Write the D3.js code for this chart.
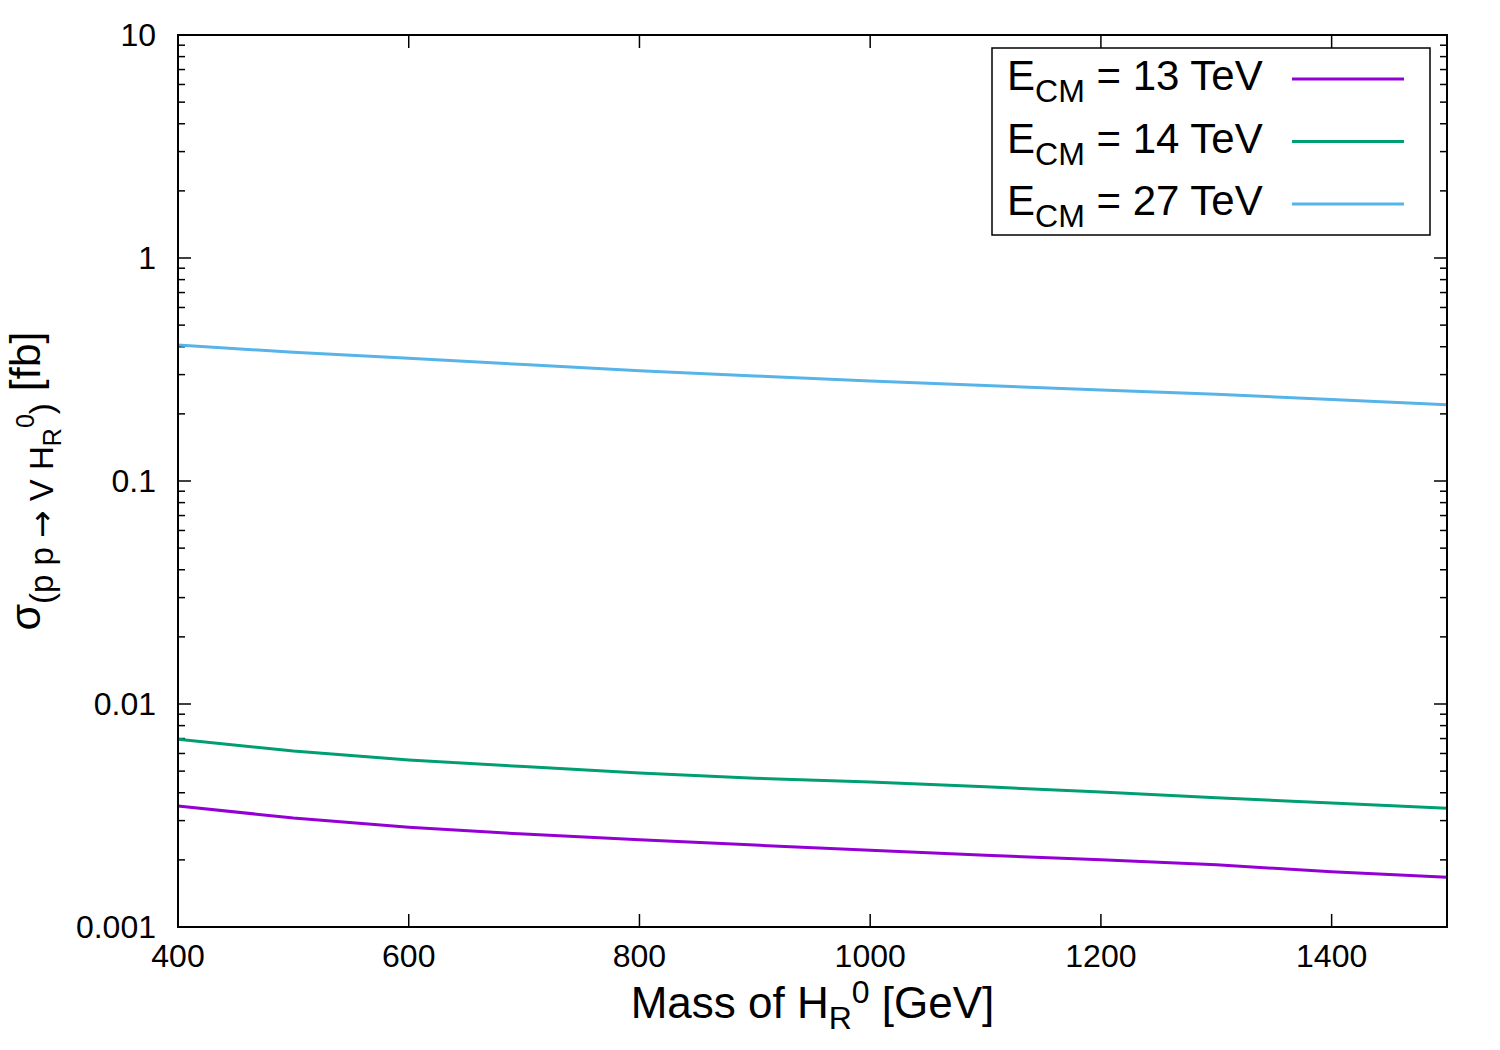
<!DOCTYPE html>
<html>
<head>
<meta charset="utf-8">
<script src="https://cdn.jsdelivr.net/npm/d3@7"></script>
<style>
  body { margin: 0; background: #fff; }
  text { font-family: "Liberation Sans", Arial, sans-serif; fill: #000; }
</style>
</head>
<body>
<svg class="chart"></svg>
<script>
var masses = [400, 500, 600, 700, 800, 900, 1000, 1100, 1200, 1300, 1400, 1500];
var xs13 = [0.00349, 0.00308, 0.00280, 0.00261, 0.00246, 0.00233, 0.00221, 0.00210, 0.00200, 0.00190, 0.00177, 0.00167];
var xs14 = [0.00695, 0.00615, 0.00561, 0.00524, 0.00490, 0.00465, 0.00447, 0.00425, 0.00403, 0.00380, 0.00360, 0.00341];
var xs27 = [0.407, 0.378, 0.355, 0.333, 0.312, 0.296, 0.281, 0.268, 0.256, 0.245, 0.232, 0.220];
var energies = ["13", "14", "27"];
var colors = ["#9400d3", "#009e73", "#56b4e9"];
var xTicks = [400, 600, 800, 1000, 1200, 1400];
var yTicks = [0.001, 0.01, 0.1, 1, 10];
var yTickLabels = ["0.001", "0.01", "0.1", "1", "10"];

var series = [xs13, xs14, xs27];

var margin = {top: 35, right: 53, bottom: 123, left: 178};
var width = 1500 - margin.left - margin.right;
var height = 1050 - margin.top - margin.bottom;

var svg = d3.select(".chart")
  .attr("width", 1500)
  .attr("height", 1050);

var chart = svg.append("g")
  .attr("transform", "translate(" + margin.left + "," + margin.top + ")");

var x = d3.scaleLinear()
  .domain([400, 1500])
  .range([0, width]);

var y = d3.scaleLog()
  .domain([0.001, 10])
  .range([height, 0]);

// minor ticks on the log axis
var minor = [];
for (var d = 0.001; d < 10; d *= 10) {
  for (var k = 2; k <= 9; k++) minor.push(d * k);
}

// left and right ticks
[0, width].forEach(function(xp, side) {
  var dir = side == 0 ? 1 : -1;
  chart.selectAll(null)
    .data(yTicks)
    .enter().append("line")
    .attr("x1", xp).attr("x2", xp + dir * 13)
    .attr("y1", function(d) { return y(d); })
    .attr("y2", function(d) { return y(d); })
    .attr("stroke", "#000").attr("stroke-width", 1.5);
  chart.selectAll(null)
    .data(minor)
    .enter().append("line")
    .attr("x1", xp).attr("x2", xp + dir * 7)
    .attr("y1", function(d) { return y(d); })
    .attr("y2", function(d) { return y(d); })
    .attr("stroke", "#000").attr("stroke-width", 1.5);
});

// bottom and top ticks
[0, height].forEach(function(yp, side) {
  var dir = side == 0 ? 1 : -1;
  chart.selectAll(null)
    .data(xTicks)
    .enter().append("line")
    .attr("y1", yp).attr("y2", yp + dir * 13)
    .attr("x1", function(d) { return x(d); })
    .attr("x2", function(d) { return x(d); })
    .attr("stroke", "#000").attr("stroke-width", 1.5);
});

// tick labels
chart.selectAll(null)
  .data(yTicks)
  .enter().append("text")
  .attr("x", -22)
  .attr("y", function(d) { return y(d) + 11; })
  .attr("text-anchor", "end")
  .style("font-size", "32px")
  .text(function(d, i) { return yTickLabels[i]; });

chart.selectAll(null)
  .data(xTicks)
  .enter().append("text")
  .attr("x", function(d) { return x(d); })
  .attr("y", height + 40)
  .attr("text-anchor", "middle")
  .style("font-size", "32px")
  .text(function(d) { return d; });

// curves
var line = d3.line()
  .x(function(d, i) { return x(masses[i]); })
  .y(function(d) { return y(d); });

series.forEach(function(s, i) {
  chart.append("path")
    .attr("d", line(s))
    .attr("fill", "none")
    .attr("stroke", colors[i])
    .attr("stroke-width", 3);
});

// frame
chart.append("rect")
  .attr("width", width)
  .attr("height", height)
  .attr("fill", "none")
  .attr("stroke", "#000")
  .attr("stroke-width", 2);

// legend
var legend = chart.append("g")
  .attr("transform", "translate(" + (992 - margin.left) + "," + (48 - margin.top) + ")");

legend.append("rect")
  .attr("width", 438)
  .attr("height", 187)
  .attr("fill", "#fff")
  .attr("stroke", "#000")
  .attr("stroke-width", 1.5);

energies.forEach(function(e, i) {
  var ly = 31 + i * 62.5;
  var t = legend.append("text")
    .attr("x", 15)
    .attr("y", ly + 11)
    .style("font-size", "42px");
  t.append("tspan").text("E");
  t.append("tspan").attr("dy", 12).style("font-size", "32px").text("CM");
  t.append("tspan").attr("dy", -12).text(" = " + e + " TeV");
  legend.append("line")
    .attr("x1", 300).attr("x2", 412)
    .attr("y1", ly).attr("y2", ly)
    .attr("stroke", colors[i])
    .attr("stroke-width", 3);
});

// axis titles
var xt = svg.append("text")
  .attr("x", margin.left + width / 2)
  .attr("y", 1018)
  .attr("text-anchor", "middle")
  .style("font-size", "44px");
xt.append("tspan").text("Mass of H");
xt.append("tspan").attr("dy", 11).style("font-size", "32px").text("R");
xt.append("tspan").attr("dy", -26).style("font-size", "32px").text("0");
xt.append("tspan").attr("dy", 15).text(" [GeV]");

var yt = svg.append("text")
  .attr("transform", "translate(40," + (margin.top + height / 2) + ") rotate(-90)")
  .attr("text-anchor", "middle")
  .style("font-size", "43px");
yt.append("tspan").text("σ");
yt.append("tspan").attr("dy", 13).style("font-size", "33px").text("(p p ");
yt.append("tspan").style("font-size", "33px").style("font-family", "DejaVu Sans").text("→");
yt.append("tspan").style("font-size", "33px").text(" V H");
yt.append("tspan").attr("dy", 8).style("font-size", "25px").text("R");
yt.append("tspan").attr("dy", -27).style("font-size", "25px").text("0");
yt.append("tspan").attr("dy", 19).style("font-size", "33px").text(")");
yt.append("tspan").attr("dy", -13).text(" [fb]");
</script>
</body>
</html>
